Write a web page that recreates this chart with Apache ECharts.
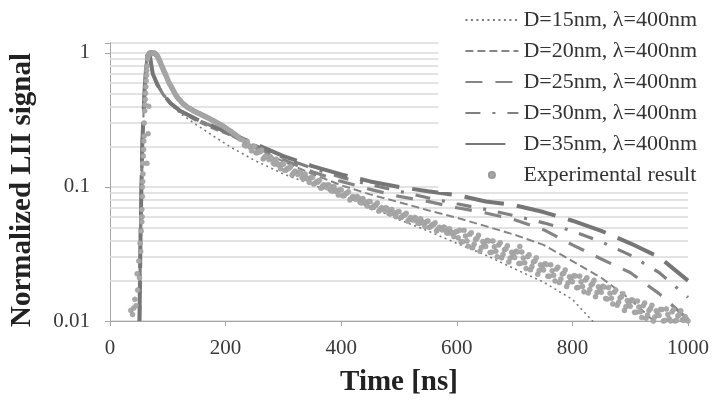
<!DOCTYPE html>
<html>
<head>
<meta charset="utf-8">
<title>Normalized LII signal</title>
<script src="https://cdn.jsdelivr.net/npm/echarts@6/dist/echarts.min.js"></script>
<style>
  html, body { margin: 0; padding: 0; background: #fff; }
  #chart { width: 712px; height: 402px; }
</style>
</head>
<body>
<div id="chart"></div>
<script>
// model curves share one time grid (ns)
var modelTime = [51, 53, 56, 60, 64, 68, 74, 82, 92, 105, 121, 150, 180, 210, 250, 300, 350, 400, 450, 500, 550, 600, 650, 700, 750, 800, 850, 900, 950, 1000];

var d15 = [0.01, 0.05, 0.22, 0.55, 0.95, 1.0, 0.7, 0.575, 0.485, 0.41, 0.355, 0.29, 0.238, 0.197, 0.158, 0.125, 0.104, 0.087, 0.071, 0.057, 0.047, 0.038, 0.031, 0.0245, 0.0195, 0.0145, 0.0085, null, null, null];
var d20 = [0.01, 0.05, 0.22, 0.55, 0.95, 1.0, 0.7, 0.58, 0.49, 0.42, 0.365, 0.31, 0.27, 0.24, 0.195, 0.155, 0.125, 0.103, 0.088, 0.077, 0.067, 0.059, 0.051, 0.044, 0.037, 0.028, 0.021, 0.0145, 0.0092, null];
var d25 = [0.01, 0.05, 0.22, 0.55, 0.95, 1.0, 0.7, 0.58, 0.49, 0.42, 0.37, 0.318, 0.28, 0.245, 0.2, 0.16, 0.13, 0.11, 0.096, 0.085, 0.078, 0.07, 0.064, 0.057, 0.048, 0.037, 0.029, 0.023, 0.016, 0.0103];
var d30 = [0.01, 0.05, 0.22, 0.55, 0.95, 1.0, 0.7, 0.58, 0.49, 0.42, 0.37, 0.318, 0.28, 0.247, 0.205, 0.165, 0.138, 0.118, 0.104, 0.093, 0.083, 0.075, 0.068, 0.061, 0.054, 0.047, 0.039, 0.031, 0.023, 0.015];
var d35 = [0.01, 0.05, 0.22, 0.55, 0.95, 1.0, 0.7, 0.58, 0.49, 0.42, 0.37, 0.32, 0.282, 0.25, 0.21, 0.17, 0.143, 0.124, 0.11, 0.1, 0.093, 0.087, 0.078, 0.073, 0.065, 0.056, 0.047, 0.038, 0.03, 0.02];

// experimental result, [time ns, normalized signal]
var expPoints = [
  [36, 0.012], [39, 0.0112], [41, 0.0125], [43, 0.0145], [45, 0.013], [47, 0.0225], [48, 0.017], [50, 0.028], [51, 0.021], [52, 0.038],
  [53, 0.033], [54, 0.047], [55, 0.055], [55, 0.068], [55.5, 0.06], [56, 0.085], [56, 0.1], [56.5, 0.11], [57, 0.125], [57, 0.15],
  [57.5, 0.17], [58, 0.19], [58.5, 0.22], [59, 0.24], [59, 0.3], [60, 0.37], [60.5, 0.41], [61, 0.45], [61.5, 0.5], [62, 0.56],
  [62.5, 0.62], [63, 0.68], [63.5, 0.74], [64, 0.8], [64, 0.15], [65, 0.9], [65.5, 0.93], [66, 0.25], [66.5, 0.96], [67, 0.97],
  [67, 0.4], [68, 0.99], [69, 1.0], [70.5, 1.0], [72, 1.0], [73.5, 0.99], [75, 1.0], [76.5, 1.0], [78, 0.99], [79.5, 0.975],
  [81, 0.96], [82.5, 0.94], [84, 0.91], [85.5, 0.88], [87, 0.85], [88.5, 0.82], [90, 0.79], [91.5, 0.765], [93, 0.74], [94.5, 0.715],
  [96, 0.69], [98, 0.66], [100, 0.63], [102, 0.6], [104, 0.58], [106, 0.56], [108, 0.54], [110, 0.52], [112, 0.5], [114, 0.485],
  [116, 0.47], [118.5, 0.455], [121, 0.445], [123.5, 0.43], [126, 0.42], [129, 0.41], [132, 0.4], [135, 0.39], [138, 0.385], [141, 0.378],
  [144, 0.37], [147, 0.366], [150, 0.36], [153, 0.355], [156, 0.35], [159, 0.345], [162, 0.34], [165, 0.335], [168, 0.33], [171, 0.325],
  [174, 0.32], [177, 0.315], [180, 0.31], [183, 0.305], [186, 0.3], [189, 0.295], [192, 0.29], [195, 0.285], [198, 0.28], [201, 0.274],
  [204, 0.268], [207, 0.263], [210, 0.258], [213, 0.252], [216, 0.247], [219, 0.241], [222, 0.236], [225, 0.228],
  [230, 0.224], [232.5, 0.206], [235, 0.202], [237.5, 0.218], [240, 0.204], [242.5, 0.198], [245, 0.186], [247.5, 0.202], [250, 0.201], [252.5, 0.18],
  [255, 0.18], [257.5, 0.186], [260, 0.183], [262.5, 0.189], [265, 0.162], [267.5, 0.167], [270, 0.17], [272.5, 0.167], [275, 0.16], [277.5, 0.168],
  [280, 0.163], [282.5, 0.151], [285, 0.148], [287.5, 0.161], [290, 0.149], [292.5, 0.145], [295, 0.137], [297.5, 0.148], [300, 0.148], [302.5, 0.133],
  [305, 0.134], [307.5, 0.138], [310, 0.138], [312.5, 0.142], [315, 0.123], [317.5, 0.127], [320, 0.131], [322.5, 0.128], [325, 0.124], [327.5, 0.13],
  [330, 0.127], [332.5, 0.117], [335, 0.115], [337.5, 0.125], [340, 0.117], [342.5, 0.114], [345, 0.108], [347.5, 0.117], [350, 0.118], [352.5, 0.105],
  [355, 0.107], [357.5, 0.11], [360, 0.109], [362.5, 0.112], [365, 0.098], [367.5, 0.101], [370, 0.104], [372.5, 0.102], [375, 0.099], [377.5, 0.104],
  [380, 0.102], [382.5, 0.094], [385, 0.093], [387.5, 0.101], [390, 0.095], [392.5, 0.092], [395, 0.087], [397.5, 0.095], [400, 0.095], [402.5, 0.086],
  [405, 0.086], [407.5, 0.089], [410, 0.09], [412.5, 0.092], [415, 0.08], [417.5, 0.082], [420, 0.085], [422.5, 0.083], [425, 0.081], [427.5, 0.085],
  [430, 0.083], [432.5, 0.077], [435, 0.076], [437.5, 0.082], [440, 0.078], [442.5, 0.075], [445, 0.072], [447.5, 0.078], [450, 0.078], [452.5, 0.07],
  [455, 0.071], [457.5, 0.073], [460, 0.073], [462.5, 0.076], [465, 0.066], [467.5, 0.068], [470, 0.07], [472.5, 0.0687], [475, 0.0667], [477.5, 0.07],
  [480, 0.0686], [482.5, 0.0634], [485, 0.063], [487.5, 0.068], [490, 0.0646], [492.5, 0.0627], [495, 0.06], [497.5, 0.065], [500, 0.0657], [502.5, 0.059],
  [505, 0.0598], [507.5, 0.0616], [510, 0.0618], [512.5, 0.0636], [515, 0.0555], [517.5, 0.0572], [520, 0.0592], [522.5, 0.058], [525, 0.0564], [527.5, 0.0593],
  [530, 0.0582], [532.5, 0.0538], [535, 0.0534], [537.5, 0.0578], [540, 0.055], [542.5, 0.0534], [545, 0.0508], [547.5, 0.0551], [550, 0.0557], [552.5, 0.0499],
  [555, 0.0508], [557.5, 0.0523], [560, 0.0525], [562.5, 0.0541], [565, 0.047], [567.5, 0.0485], [570, 0.05], [572.5, 0.049], [575, 0.0478], [577.5, 0.0502],
  [580, 0.0493], [582.5, 0.0455], [585, 0.0451], [587.5, 0.0488], [590, 0.0462], [592.5, 0.0448], [595, 0.0426], [597.5, 0.0461], [600, 0.0466], [602.5, 0.0418],
  [605, 0.0475], [607.5, 0.0389], [610, 0.039], [612.5, 0.0475], [615, 0.043], [617.5, 0.0396], [620, 0.0361], [622.5, 0.0443], [625, 0.0456], [627.5, 0.0352],
  [630, 0.0374], [632.5, 0.0406], [635, 0.0414], [637.5, 0.0437], [640, 0.0331], [642.5, 0.0353], [645, 0.0392], [647.5, 0.0373], [650, 0.036], [652.5, 0.04],
  [655, 0.0396], [657.5, 0.0324], [660, 0.0326], [662.5, 0.0396], [665, 0.0358], [667.5, 0.0331], [670, 0.0301], [672.5, 0.0369], [675, 0.0383], [677.5, 0.0296],
  [680, 0.0314], [682.5, 0.034], [685, 0.0346], [687.5, 0.0365], [690, 0.0276], [692.5, 0.0295], [695, 0.0326], [697.5, 0.031], [700, 0.0298], [702.5, 0.0331],
  [705, 0.0328], [707.5, 0.0268], [709, 0.036], [710, 0.0269], [712.5, 0.0327], [715, 0.0295], [717.5, 0.0272], [720, 0.0246], [722.5, 0.0302], [725, 0.0312],
  [727.5, 0.0241], [730, 0.0255], [732.5, 0.0276], [735, 0.028], [737.5, 0.0296], [740, 0.0223], [742.5, 0.0238], [745, 0.0263], [747.5, 0.025], [750, 0.024],
  [752.5, 0.0267], [755, 0.0264], [757.5, 0.0216], [760, 0.0216], [762.5, 0.0263], [765, 0.0237], [767.5, 0.0219], [770, 0.0199], [772.5, 0.0244], [775, 0.0252],
  [777.5, 0.0194], [780, 0.0206], [782.5, 0.0224], [785, 0.0227], [787.5, 0.024], [790, 0.0181], [792.5, 0.0193], [795, 0.0214], [797.5, 0.0204], [800, 0.0196],
  [802.5, 0.0218], [805, 0.0217], [807.5, 0.0177], [810, 0.0178], [812.5, 0.0216], [815, 0.0196], [817.5, 0.0181], [820, 0.0165], [822.5, 0.0202], [825, 0.021],
  [827.5, 0.0162], [830, 0.0172], [832.5, 0.0186], [835, 0.019], [837.5, 0.0201], [840, 0.0152], [842.5, 0.0163], [845, 0.018], [847.5, 0.0171], [850, 0.0164],
  [852.5, 0.0182], [855, 0.0179], [857.5, 0.0147], [860, 0.0146], [862.5, 0.0178], [865, 0.0161], [867.5, 0.0148], [870, 0.0134], [872.5, 0.0164], [875, 0.017],
  [877.5, 0.0131], [880, 0.0138], [882.5, 0.0149], [885, 0.0152], [887.5, 0.016], [890, 0.012], [892.5, 0.0128], [895, 0.0142], [897.5, 0.0135], [900, 0.0129],
  [902.5, 0.0144], [905, 0.0142], [907.5, 0.0116], [910, 0.0116], [912.5, 0.0141], [915, 0.0127], [917.5, 0.0117], [920, 0.0106], [922.5, 0.013], [925, 0.0136],
  [927.5, 0.0105], [930, 0.0111], [932.5, 0.012], [935, 0.0124], [937.5, 0.0131], [940, 0.01], [942.5, 0.0107], [945, 0.0119], [947.5, 0.0113], [950, 0.011],
  [952.5, 0.0122], [955, 0.0122], [957.5, 0.01], [960, 0.0101], [962.5, 0.0123], [965, 0.0112], [967.5, 0.0104], [970, 0.01], [972.5, 0.0117], [975, 0.0122],
  [977.5, 0.01], [980, 0.0101], [982.5, 0.0109], [985, 0.0112], [987.5, 0.0119], [990, 0.0102], [992.5, 0.0101], [995, 0.0108], [997.5, 0.0103], [1000, 0.01]
];

var minorGrid = [0.02, 0.03, 0.04, 0.05, 0.06, 0.07, 0.08, 0.09, 0.2, 0.3, 0.4, 0.5, 0.6, 0.7, 0.8, 0.9];

var seriesNames = ['D=15nm, \u03bb=400nm', 'D=20nm, \u03bb=400nm', 'D=25nm, \u03bb=400nm', 'D=30nm, \u03bb=400nm', 'D=35nm, \u03bb=400nm', 'Experimental result'];

function pairs(xs, ys) {
  return xs.map(function (x, i) { return [x, ys[i]]; });
}

var serif = 'Liberation Serif';

function modelLine(name, values, dash, width, color) {
  return {
    name: name,
    type: 'line',
    data: pairs(modelTime, values),
    symbol: 'none',
    connectNulls: false,
    lineStyle: { color: color, width: width, type: dash, cap: 'butt' },
    itemStyle: { color: color },
    z: 3
  };
}

// legend entries: hide the little symbol drawn on the line icons
var legendData = seriesNames.map(function (n, i) {
  return i < 5 ? { name: n, itemStyle: { opacity: 0 } } : { name: n };
});

var myChart = echarts.init(document.getElementById('chart'));

var option = {
  animation: false,
  backgroundColor: '#fff',
  grid: { left: 110, right: 23, top: 43, bottom: 79, containLabel: false },
  legend: {
    orient: 'vertical',
    right: 9,
    top: 3,
    align: 'left',
    itemWidth: 53,
    itemHeight: 6,
    itemGap: 9,
    padding: [6, 6, 6, 26],
    backgroundColor: '#fff',
    textStyle: { fontFamily: serif, fontSize: 22, color: '#333' },
    data: legendData
  },
  xAxis: {
    type: 'value',
    min: 0,
    max: 1000,
    interval: 200,
    name: 'Time [ns]',
    nameLocation: 'middle',
    nameGap: 47,
    nameTextStyle: { fontFamily: serif, fontSize: 29, fontWeight: 'bold', color: '#222' },
    axisLine: { show: true, lineStyle: { color: '#a6a6a6', width: 1 } },
    axisTick: { show: true, length: 5, lineStyle: { color: '#a6a6a6' } },
    axisLabel: {
      fontFamily: serif, fontSize: 21, color: '#3a3a3a', margin: 17,
      formatter: function (v) { return String(v); }
    },
    splitLine: { show: false }
  },
  yAxis: {
    type: 'log',
    logBase: 10,
    min: 0.01,
    max: 1.186,
    name: 'Normalized LII signal',
    nameLocation: 'middle',
    nameGap: 73,
    nameTextStyle: { fontFamily: serif, fontSize: 29, fontWeight: 'bold', color: '#222', padding: [0, 16, 0, 0] },
    axisLine: { show: true, lineStyle: { color: '#a6a6a6', width: 1 } },
    axisTick: { show: true, length: 5, lineStyle: { color: '#a6a6a6' } },
    axisLabel: {
      fontFamily: serif, fontSize: 21, color: '#3a3a3a', margin: 20,
      formatter: function (v) {
        var l = Math.log10(v);
        return Math.abs(l - Math.round(l)) < 1e-6 ? String(+v.toPrecision(1)) : '';
      }
    },
    splitLine: { show: true, lineStyle: { color: '#dadada', width: 1.5 } }
  },
  series: [
    {
      // minor log gridlines, kept under the legend box
      name: 'minor',
      type: 'line',
      data: [],
      z: 1,
      markLine: {
        z: 1,
        silent: true,
        symbol: ['none', 'none'],
        label: { show: false },
        lineStyle: { color: '#dadada', width: 1.5, type: 'solid' },
        data: minorGrid.map(function (v) { return { yAxis: v }; })
      }
    },
    modelLine(seriesNames[0], d15, [2, 3.5], 1.6, '#7a7a7a'),
    modelLine(seriesNames[1], d20, [8, 4], 2, '#858585'),
    modelLine(seriesNames[2], d25, [17, 13], 3.2, '#858585'),
    modelLine(seriesNames[3], d30, [15, 12, 3, 12], 3.2, '#808080'),
    modelLine(seriesNames[4], d35, [40, 13], 4, '#767676'),
    {
      name: seriesNames[5],
      type: 'scatter',
      data: expPoints,
      symbol: 'circle',
      symbolSize: 5,
      itemStyle: { color: '#a8a8a8', borderColor: '#9a9a9a', borderWidth: 0.5, opacity: 1 },
      z: 4
    }
  ]
};

myChart.setOption(option);
</script>
</body>
</html>
